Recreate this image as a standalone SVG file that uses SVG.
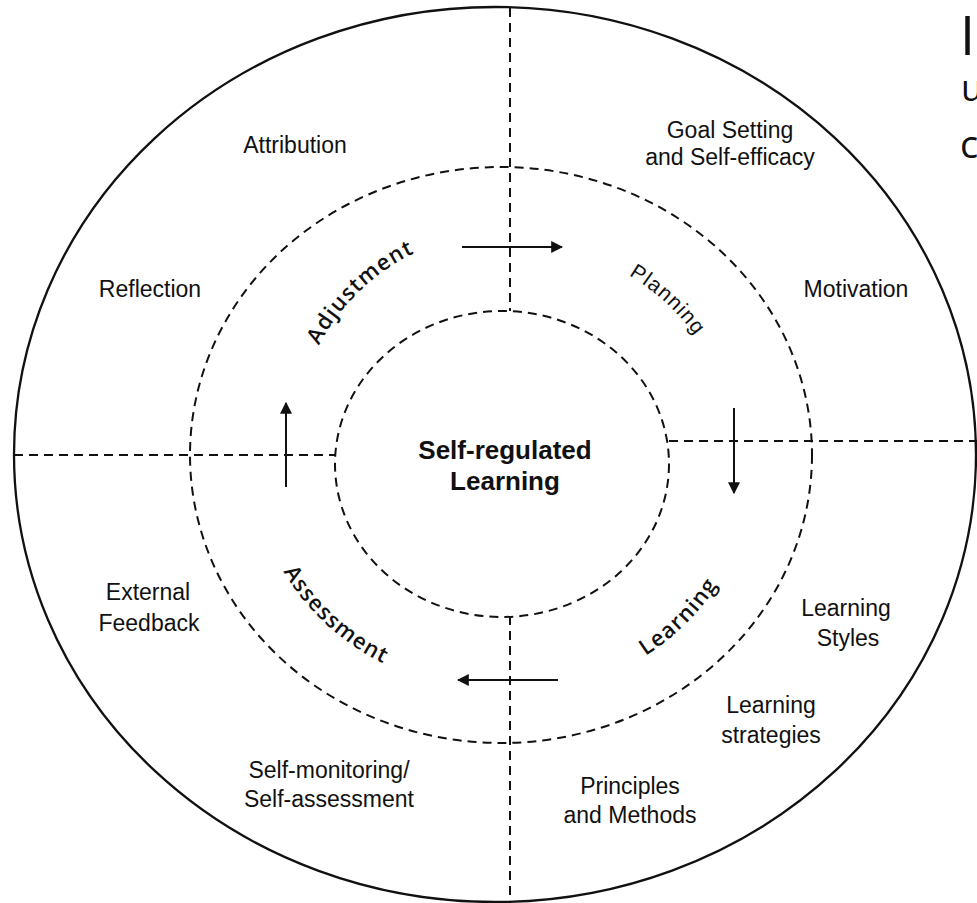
<svg xmlns="http://www.w3.org/2000/svg" xmlns:xlink="http://www.w3.org/1999/xlink" width="977" height="903" viewBox="0 0 977 903">
<style>
.lbl{font-family:"Liberation Sans",Arial,sans-serif;font-size:23px;fill:#111;text-anchor:middle}
.ctr{font-family:"Liberation Sans",Arial,sans-serif;font-size:26px;font-weight:bold;fill:#111;text-anchor:middle}
.arc{font-family:"Open Sans","DejaVu Sans",sans-serif;font-size:22px;font-weight:600;fill:#111;letter-spacing:1.2px}
.arcA{font-family:"Liberation Sans",Arial,sans-serif;font-size:21px;fill:#111;letter-spacing:1.2px}
.dash{fill:none;stroke:#111;stroke-width:2;stroke-dasharray:9 6}
.arr{fill:none;stroke:#111;stroke-width:2;marker-end:url(#ah)}
.side{font-family:"Open Sans","DejaVu Sans",sans-serif;fill:#111}
</style>
<defs>
<marker id="ah" viewBox="0 0 10 10" refX="9" refY="5" markerWidth="6" markerHeight="6" orient="auto" markerUnits="strokeWidth">
<path d="M0,0 L10,5 L0,10 z" fill="#111"/>
</marker>
<path id="pAdj" d="M297.9,405.0 A215,215 0 0,1 475.4,233.6"/>
<path id="pPlan" d="M541.8,243.3 A235,219 0 0,1 732.4,421.0"/>
<path id="pLearn" d="M554.0,692.8 A255,239 0 0,0 753.5,492.3"/>
<path id="pAss" d="M255.8,499.3 A249,232 0 0,0 457.8,687.5"/>
</defs>
<rect width="977" height="903" fill="#fff"/>
<g id="outer-ring">
<ellipse cx="495" cy="454.5" rx="481" ry="447.5" fill="none" stroke="#111" stroke-width="2.3"/>
</g>
<g id="connectors">
<ellipse class="dash" cx="501" cy="455" rx="311" ry="288"/>
<ellipse class="dash" cx="502" cy="464" rx="167" ry="153"/>
<line class="dash" x1="510" y1="8" x2="510" y2="311"/>
<line class="dash" x1="510" y1="616" x2="510" y2="903"/>
<line class="dash" x1="14" y1="455" x2="335" y2="455"/>
<line class="dash" x1="669" y1="441" x2="977" y2="441"/>
<line class="arr" x1="462" y1="247" x2="562" y2="247"/>
<line class="arr" x1="734" y1="408" x2="734" y2="493"/>
<line class="arr" x1="558" y1="680" x2="458" y2="680"/>
<line class="arr" x1="286" y1="487" x2="286" y2="403"/>
</g>
<g id="center">
<text class="ctr" x="505" y="459">Self-regulated</text>
<text class="ctr" x="505" y="490">Learning</text>
</g>
<g id="adjustment"><text class="arc"><textPath xlink:href="#pAdj" href="#pAdj" startOffset="50%" text-anchor="middle">Adjustment</textPath></text></g>
<g id="planning"><text class="arcA"><textPath xlink:href="#pPlan" href="#pPlan" startOffset="50%" text-anchor="middle">Planning</textPath></text></g>
<g id="learning"><text class="arc"><textPath xlink:href="#pLearn" href="#pLearn" startOffset="50%" text-anchor="middle">Learning</textPath></text></g>
<g id="assessment"><text class="arc"><textPath xlink:href="#pAss" href="#pAss" startOffset="50%" text-anchor="middle">Assessment</textPath></text></g>
<g id="attribution"><text class="lbl" x="295" y="153">Attribution</text></g>
<g id="goal-setting"><text class="lbl" x="730" y="138">Goal Setting</text><text class="lbl" x="730" y="165">and Self-efficacy</text></g>
<g id="reflection"><text class="lbl" x="150" y="297">Reflection</text></g>
<g id="motivation"><text class="lbl" x="856" y="297">Motivation</text></g>
<g id="external-feedback"><text class="lbl" x="148" y="600">External</text><text class="lbl" x="149" y="631">Feedback</text></g>
<g id="learning-styles"><text class="lbl" x="846" y="616">Learning</text><text class="lbl" x="848" y="646">Styles</text></g>
<g id="learning-strategies"><text class="lbl" x="771" y="713">Learning</text><text class="lbl" x="771" y="743">strategies</text></g>
<g id="self-monitoring"><text class="lbl" x="329" y="778">Self-monitoring/</text><text class="lbl" x="329" y="807">Self-assessment</text></g>
<g id="principles"><text class="lbl" x="630" y="794">Principles</text><text class="lbl" x="630" y="823">and Methods</text></g>
<g id="side-text">
<text class="side" x="960" y="55" font-size="54">I</text>
<text class="side" x="961" y="101" font-size="36">u</text>
<text class="side" x="960" y="158" font-size="38">c</text>
</g>
</svg>
